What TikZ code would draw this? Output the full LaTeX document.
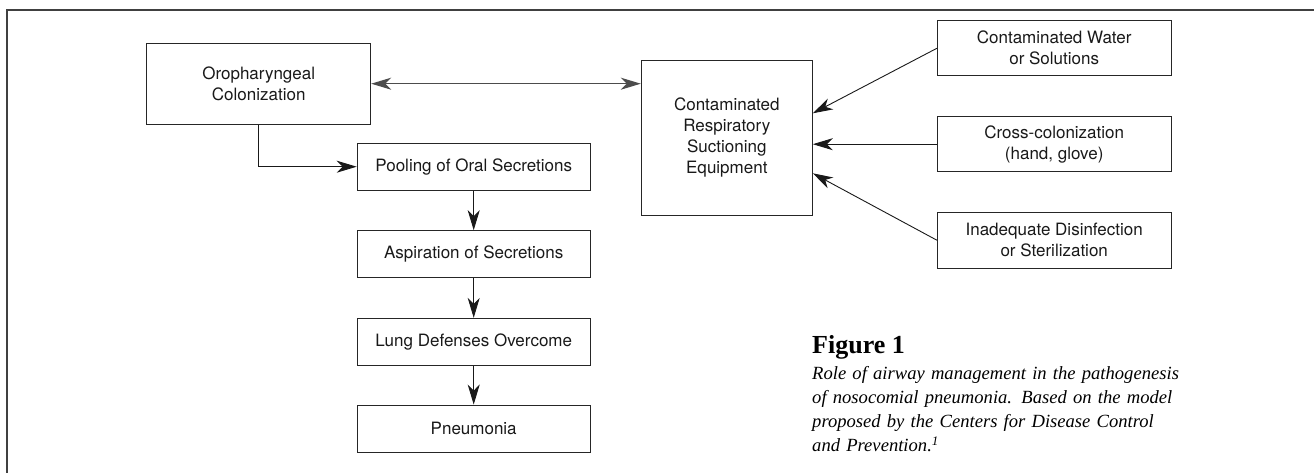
\documentclass[tikz,border=0pt]{standalone}
\usepackage{fontspec}
\setmainfont{Liberation Serif}
\newfontfamily\diafont{TeX Gyre Heros}
\usetikzlibrary{arrows.meta,calc}
\begin{document}
\begin{tikzpicture}[x=1pt,y=-1pt,
  box/.style={draw=black!85, line width=1pt, inner sep=0pt, align=center,
    font=\diafont\fontsize{17}{21}\selectfont, text=black!90},
  conn/.style={line width=0.9pt, draw=black!90,
    -{Stealth[length=20pt,width=12pt,inset=6pt]}},
  dconn/.style={line width=1.3pt, draw=black!70,
    {Stealth[length=20pt,width=12pt,inset=6pt]}-{Stealth[length=20pt,width=12pt,inset=6pt]}},
  frameline/.style={line width=2.2pt, draw=black!75}]
\useasboundingbox (0,0) rectangle (1314,473);
% open frame (top and left edges)
\coordinate (fbl) at (7,474);
\coordinate (ftl) at (7,10);
\coordinate (ftr) at (1315,10);
\draw[frameline] (fbl) -- (ftl) -- (ftr);
% left chain
\node[box, minimum width=224pt, minimum height=80.7pt] (oro) at (258.7,83.7) {Oropharyngeal\\Colonization};
\node[box, minimum width=233pt, minimum height=47pt] (pool) at (473.7,166.7) {Pooling of Oral Secretions};
\node[box, minimum width=233pt, minimum height=46.6pt] (asp) at (473.7,254) {Aspiration of Secretions};
\node[box, minimum width=233pt, minimum height=46.7pt] (lung) at (473.7,341.7) {Lung Defenses Overcome};
\node[box, minimum width=233pt, minimum height=47.3pt] (pneu) at (473.7,428.7) {Pneumonia};
% equipment
\node[box, minimum width=171pt, minimum height=154.7pt] (cont) at (726.8,137.7) {Contaminated\\Respiratory\\Suctioning\\Equipment};
% sources
\node[box, minimum width=233.7pt, minimum height=55.3pt] (water) at (1054.2,48.3) {Contaminated Water\\or Solutions};
\node[box, minimum width=233.7pt, minimum height=55pt] (cross) at (1054.2,144.2) {Cross-colonization\\(hand, glove)};
\node[box, minimum width=233.7pt, minimum height=55.7pt] (inad) at (1054.2,240.2) {Inadequate Disinfection\\or Sterilization};
% connectors
\draw[dconn] (oro.east) -- (oro.east -| cont.west);
\draw[conn] (oro.south) |- (pool.west);
\draw[conn] (pool.south) -- (asp.north);
\draw[conn] (asp.south) -- (lung.north);
\draw[conn] (lung.south) -- (pneu.north);
\draw[conn] (water.west) -- ([yshift=24.4pt]cont.east);
\draw[conn] (cross.west) -- (cross.west -| cont.east);
\draw[conn] (inad.west) -- ([yshift=-35.6pt]cont.east);
% caption
\node[anchor=base west, inner sep=0pt, font=\bfseries\fontsize{26}{30}\selectfont] (fig) at (812,353) {Figure 1};
\node[anchor=north west, inner sep=0pt, align=left, text width=380pt,
  font=\itshape\fontsize{18.6}{24}\selectfont] (cap) at (812,366.5)
  {Role of airway management in the pathogenesis\\
   of nosocomial pneumonia. Based on the model\\
   proposed by the Centers for Disease Control\\
   and Prevention.\textsuperscript{1}};
\end{tikzpicture}
\end{document}
